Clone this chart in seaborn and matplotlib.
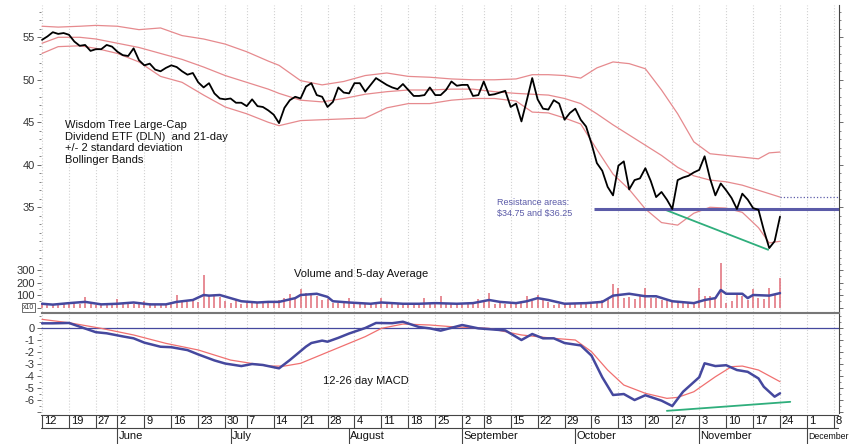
import numpy as np
import pandas as pd
import seaborn as sns
import matplotlib.pyplot as plt
from matplotlib import transforms
from matplotlib.ticker import MultipleLocator

# DLN daily closes, trading days 12 May - 24 Nov 2008
close = [54.7, 55.1, 55.6, 55.4, 55.5,
         55.3, 54.5, 54.0, 54.1, 53.4,
         53.6, 53.6, 54.1, 53.9,
         53.3, 52.9, 52.8, 53.7, 52.3,
         51.7, 51.9, 51.2, 51.0, 51.4,
         51.7, 51.5, 51.0, 50.6, 50.8,
         49.7, 49.1, 49.6, 48.4, 47.8,
         47.7, 47.8, 47.3, 47.3,
         46.9, 47.7, 46.9, 46.8, 46.4,
         45.9, 44.9, 46.7, 47.6, 48.0,
         47.8, 49.2, 49.6, 48.2, 48.0,
         46.8, 47.4, 49.1, 48.5, 48.4,
         49.6, 49.6, 48.6, 49.4, 50.2,
         49.8, 49.4, 49.1, 48.9, 49.5,
         48.8, 48.1, 48.1, 48.2, 49.1,
         48.2, 48.2, 48.8, 49.8, 49.3,
         49.4, 49.4, 48.1, 48.2,
         49.8, 48.2, 48.3, 48.5, 48.7,
         46.8, 47.2, 45.1, 47.6, 50.2,
         47.7, 46.6, 46.5, 47.6, 47.2,
         45.3, 46.1, 46.6, 45.3, 44.5,
         42.5, 40.2, 39.3, 37.4, 36.4,
         39.9, 40.4, 37.1, 38.2, 38.4,
         39.6, 38.1, 36.2, 36.8, 35.9,
         34.8, 38.2, 38.5, 38.7, 39.1,
         39.4, 41.0, 38.4, 36.4, 37.8,
         37.0, 36.1, 34.8, 36.6, 35.9,
         34.9, 34.7, 32.3, 30.2, 31.0,
         33.9]

volume = [30, 22, 25, 40, 28,
          35, 48, 30, 85, 28,
          20, 25, 18, 22,
          70, 30, 45, 25, 40,
          50, 35, 20, 25, 22,
          30, 100, 55, 45, 70,
          45, 260, 90, 100, 85,
          50, 40, 65, 30,
          45, 35, 45, 50, 40,
          55, 60, 75, 110, 70,
          150, 120, 100, 90, 60,
          70, 40, 35, 45, 80,
          30, 25, 40, 35, 45,
          80, 30, 35, 25, 30,
          30, 25, 30, 75, 30,
          40, 95, 25, 35, 30,
          40, 30, 35, 70,
          45, 120, 30, 40, 25,
          45, 35, 40, 95, 55,
          100, 60, 45, 20, 30,
          25, 30, 30, 35, 40,
          30, 45, 60, 70, 190,
          160, 80, 85, 70, 95,
          160, 75, 80, 60, 70,
          45, 50, 40, 35, 35,
          155, 90, 95, 80, 360,
          35, 55, 120, 95, 60,
          150, 80, 65, 155, 110,
          240]

# 5-day volume average (read at sample days)
vavg_days = [0, 2, 5, 8, 11, 14, 17, 20, 23, 25, 28, 30, 31, 33, 35, 37, 40, 42, 44, 47,
             48, 51, 53, 54, 57, 61, 63, 67, 70, 73, 77, 80, 83, 85, 88, 90, 92, 94, 97, 101,
             104, 106, 109, 112, 114, 117, 121, 123, 125, 126, 127, 130, 131, 132, 135, 137]
vavg_vals = [30, 23, 35, 45, 25, 30, 40, 25, 25, 45, 60, 100, 95, 100, 75, 50, 40, 45, 45, 75,
             100, 110, 85, 50, 40, 30, 40, 30, 30, 35, 30, 35, 60, 45, 35, 50, 75, 60, 30, 35,
             45, 95, 110, 90, 90, 50, 35, 60, 75, 140, 110, 110, 75, 100, 95, 115]

# 21-day Bollinger bands (read at sample days)
band_days = [0, 3, 7, 10, 14, 18, 22, 26, 30, 34, 38, 42, 44, 46, 48, 52, 56, 60, 64, 68, 72,
             76, 80, 84, 88, 91, 94, 97, 100, 103, 106, 109, 112, 115, 118, 121, 124, 127,
             130, 133, 135, 137]
upper = [56.3, 56.2, 56.3, 56.4, 56.3, 55.9, 56.1, 55.2, 54.8, 54.2, 53.3, 52.2, 51.7, 50.8,
         49.9, 49.4, 49.8, 50.5, 50.8, 50.4, 50.3, 50.1, 50.0, 50.0, 50.1, 50.6, 50.6, 50.5,
         50.2, 51.4, 52.1, 51.9, 51.3, 48.8, 46.0, 42.7, 41.3, 41.1, 40.9, 40.7, 41.4, 41.5]
middle = [54.3, 55.0, 55.0, 54.8, 54.3, 53.8, 53.1, 52.4, 51.5, 50.5, 49.7, 48.9, 48.4, 48.0,
          47.6, 47.4, 47.8, 48.3, 48.6, 48.8, 48.8, 48.9, 48.9, 48.6, 48.4, 48.3, 48.2, 47.8,
          47.2, 46.0, 44.7, 43.5, 42.3, 41.1, 39.7, 38.7, 38.2, 38.0, 37.6, 37.0, 36.6, 36.2]
lower = [53.1, 53.9, 54.0, 53.7, 53.1, 52.1, 50.4, 49.7, 48.2, 46.8, 46.0, 45.0, 44.6, 44.9,
         45.2, 45.3, 45.4, 45.5, 46.7, 47.2, 47.2, 47.6, 47.8, 47.8, 47.5, 46.2, 46.1, 45.5,
         44.8, 41.8, 38.9, 37.1, 34.8, 33.2, 32.9, 34.3, 35.0, 34.9, 34.4, 32.6, 30.8, 31.0]

# 12-26 MACD and signal line
macd_days = [0, 2, 5, 7, 10, 12, 15, 17, 19, 22, 24, 27, 29, 32, 34, 37, 39, 41, 44, 46,
             49, 50, 52, 53, 55, 57, 60, 62, 65, 67, 70, 72, 74, 78, 81, 86, 89, 91, 93, 95,
             97, 100, 102, 104, 106, 108, 110, 112, 115, 117, 119, 122, 123, 125, 127, 129,
             131, 133, 134, 136, 137]
macd_vals = [0.39, 0.39, 0.42, 0.11, -0.35, -0.44, -0.70, -0.86, -1.22, -1.56, -1.60, -1.84,
             -2.20, -2.70, -2.96, -3.17, -3.00, -3.08, -3.36, -2.67, -1.55, -1.25, -1.05,
             -1.14, -0.82, -0.46, 0.00, 0.42, 0.40, 0.52, 0.08, -0.03, -0.22, 0.25, -0.03,
             -0.20, -1.00, -0.50, -0.86, -0.86, -1.25, -1.45, -2.30, -4.10, -5.58, -5.50,
             -6.00, -5.60, -6.05, -6.50, -5.31, -4.10, -2.94, -3.17, -3.10, -3.50, -3.65,
             -4.20, -4.90, -5.72, -5.44]
signal_days = [0, 5, 11, 17, 23, 29, 35, 42, 45, 48, 54, 60, 63, 67, 72, 76, 83, 89, 95, 99,
               102, 105, 108, 112, 116, 118, 121, 125, 128, 130, 133, 137]
signal_vals = [0.72, 0.44, -0.03, -0.58, -1.28, -1.83, -2.67, -3.17, -3.17, -2.94, -1.83,
               -0.72, -0.03, 0.33, 0.25, 0.11, -0.03, -0.58, -0.86, -1.0, -1.97, -3.5, -4.75,
               -5.44, -5.86, -5.78, -5.31, -4.06, -3.22, -3.17, -3.5, -4.47]

# resistance levels and divergence trend lines
resist_solid = 34.75
resist_dotted = 36.25
resist_start = [102.5, 137]
price_trend_days = [115.3, 134.8]
price_trend_vals = [34.8, 30.0]
macd_trend_days = [116, 138.9]
macd_trend_vals = [-6.9, -6.15]

# x axis labels (trading-day positions)
week_days = [0, 5, 10, 14, 19, 24, 29, 34, 38, 43, 48, 53, 58, 63, 68, 73, 78, 82, 87, 92,
             97, 102, 107, 112, 117, 122, 127, 132, 137, 142, 147]
week_labels = ['12', '19', '27', '2', '9', '16', '23', '30', '7', '14', '21', '28', '4', '11',
               '18', '25', '2', '8', '15', '22', '29', '6', '13', '20', '27', '3', '10', '17',
               '24', '1', '8']
month_days = [14, 35, 57, 78, 99, 122, 142]
month_labels = ['June', 'July', 'August', 'September', 'October', 'November', 'December']

days = np.arange(len(close))

sns.set_theme(style='white')
plt.rcParams['font.family'] = ['Liberation Sans', 'DejaVu Sans']

W, H = 849, 444
fig = plt.figure(figsize=(W / 100, H / 100), dpi=100)


def box(l, t, r, b):
    return [l / W, 1 - b / H, (r - l) / W, (b - t) / H]


ax_p = fig.add_axes(box(41, 5, 839, 262))
ax_v = fig.add_axes(box(41, 262, 839, 312))
ax_m = fig.add_axes(box(41, 313, 839, 413))
ax_d = fig.add_axes(box(41, 413, 839, 444))

XLIM = (-0.19, 147.95)
band_col = '#e68a8e'
blue = '#45489e'
green = '#2fae7c'

for ax in (ax_p, ax_v, ax_m, ax_d):
    ax.set_xlim(*XLIM)
    ax.set_facecolor('white')

for ax in (ax_p, ax_v, ax_m):
    ax.set_xticks(week_days)
    ax.grid(axis='x', color='#d2d2d2', ls=':', lw=0.8)
    ax.grid(axis='y', visible=False)
    ax.tick_params(axis='x', length=0, labelbottom=False)
    ax.tick_params(axis='y', which='both', direction='out', left=True, right=True,
                   labelsize=8, labelcolor='#333', color='#555', pad=1.5)
    ax.tick_params(axis='y', which='major', length=3, width=0.6)
    ax.tick_params(axis='y', which='minor', length=1.5, width=0.5)
    for s in ('top', 'bottom', 'left'):
        ax.spines[s].set_visible(False)
    ax.spines['right'].set_color('#444')
    ax.spines['right'].set_linewidth(0.8)

# price panel
ax_p.set_ylim(28.56, 58.8)
ax_p.set_yticks([35, 40, 45, 50, 55])
ax_p.yaxis.set_minor_locator(MultipleLocator(1))
for band in (upper, middle, lower):
    sns.lineplot(x=band_days, y=band, ax=ax_p, color=band_col, lw=0.9, estimator=None)
ax_p.hlines(resist_solid, resist_start[0], XLIM[1], color='#5b5ba8', lw=2.2, zorder=3)
ax_p.hlines(resist_dotted, resist_start[1], XLIM[1], color='#5b5ba8', lw=0.9, ls=':', zorder=3)
sns.lineplot(x=price_trend_days, y=price_trend_vals, ax=ax_p, color=green, lw=1.3, estimator=None)
sns.lineplot(x=days, y=close, ax=ax_p, color='black', lw=1.3, estimator=None, zorder=4)
ax_p.text(0.030, 0.552, 'Wisdom Tree Large-Cap\nDividend ETF (DLN)  and 21-day\n'
          '+/- 2 standard deviation\nBollinger Bands', transform=ax_p.transAxes,
          fontsize=8, va='top', ha='left', linespacing=1.2, color='#111')
ax_p.text(0.571, 0.248, 'Resistance areas:\n\\$34.75 and \\$36.25', transform=ax_p.transAxes,
          fontsize=6.5, va='top', ha='left', linespacing=1.25, color='#5b5ba8')

# volume panel
ax_v.set_ylim(-36, 364)
ax_v.set_yticks([0, 100, 200, 300])
ax_v.set_yticklabels(['', '100', '200', '300'])
ax_v.yaxis.set_minor_locator(MultipleLocator(50))
ax_v.spines['bottom'].set_visible(True)
ax_v.spines['bottom'].set_color('#777')
ax_v.spines['bottom'].set_linewidth(0.8)
ax_v.vlines(days, 0, volume, color='#e06c78', lw=1.1)
sns.lineplot(x=vavg_days, y=vavg_vals, ax=ax_v, color=blue, lw=1.8, estimator=None)
trans_v = transforms.blended_transform_factory(ax_v.transAxes, ax_v.transData)
ax_v.text(-0.009, 0, 'x10', transform=trans_v, ha='right', va='center', fontsize=5,
          color='#333', bbox=dict(boxstyle='square,pad=0.15', fc='white', ec='#555', lw=0.6))
ax_v.text(0.317, 0.76, 'Volume and 5-day Average', transform=ax_v.transAxes,
          fontsize=8, va='center', ha='left', color='#111')

# MACD panel
ax_m.set_ylim(-7.08, 1.25)
ax_m.set_yticks(range(-7, 1))
ax_m.set_yticklabels([''] + [str(v) for v in range(-6, 1)])
ax_m.yaxis.set_minor_locator(MultipleLocator(0.5))
ax_m.spines['top'].set_visible(True)
ax_m.spines['top'].set_color('#777')
ax_m.spines['top'].set_linewidth(0.8)
ax_m.axhline(0, color=blue, lw=0.9)
sns.lineplot(x=signal_days, y=signal_vals, ax=ax_m, color='#f07070', lw=0.9, estimator=None)
sns.lineplot(x=macd_days, y=macd_vals, ax=ax_m, color=blue, lw=1.8, estimator=None)
sns.lineplot(x=macd_trend_days, y=macd_trend_vals, ax=ax_m, color=green, lw=1.3, estimator=None)
ax_m.text(0.353, 0.32, '12-26 day MACD', transform=ax_m.transAxes,
          fontsize=8, va='center', ha='left', color='#111')

for ax in (ax_p, ax_v, ax_m):
    ax.set(xlabel='', ylabel='')
    ax.set_xlim(*XLIM)

# date band
ax_d.set_ylim(0, 1)
ax_d.axis('off')
ax_d.axhline(0.935, color='#444', lw=0.8)
ax_d.axhline(0.516, color='#444', lw=0.8)
ax_d.vlines(week_days, 0.516, 0.935, color='#444', lw=0.8)
ax_d.vlines(month_days, 0, 0.516, color='#444', lw=0.8)
for d, lbl in zip(week_days, week_labels):
    ax_d.text(d + 0.35, 0.73, lbl, ha='left', va='center', fontsize=8, color='#111', clip_on=False)
for d, lbl in zip(month_days, month_labels):
    # the last month name runs past the right edge, as in the original
    size = 8 if lbl != 'December' else 6.3
    ax_d.text(d + 0.25, 0.25, lbl, ha='left', va='center', fontsize=size, color='#111',
              clip_on=False)

fig.savefig('out.png', dpi=100)
